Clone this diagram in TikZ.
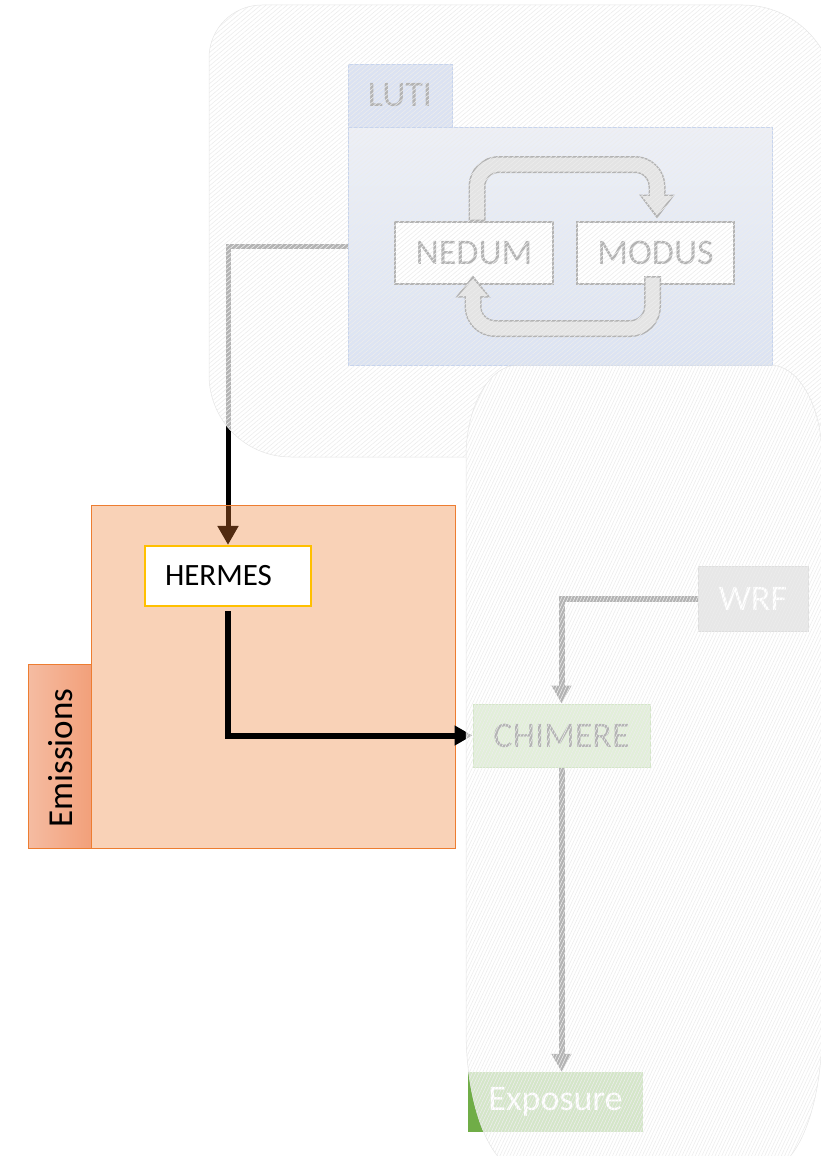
\documentclass[tikz,border=0pt]{standalone}
\usepackage{fontspec}
\setmainfont{Carlito}
\usetikzlibrary{arrows.meta,patterns.meta,calc}
\pgfdeclarelayer{bglayer}
\pgfdeclarelayer{emislayer}
\pgfdeclarelayer{ovllayer}
\pgfsetlayers{bglayer,emislayer,main,ovllayer}
\definecolor{orng}{HTML}{ED7D31}
\definecolor{gold}{HTML}{FFC000}
\definecolor{lutitab}{RGB}{136,160,212}
\definecolor{lutitop}{RGB}{196,205,228}
\definecolor{lutibot}{RGB}{136,162,214}
\definecolor{lutiedge}{HTML}{4472C4}
\definecolor{grn}{HTML}{70AD47}
\definecolor{lgrn}{RGB}{158,202,130}
\definecolor{wrffill}{RGB}{176,176,176}
\definecolor{wrfedge}{RGB}{145,145,145}
\definecolor{cyclefill}{RGB}{165,165,165}
\definecolor{emtabL}{RGB}{245,188,162}
\definecolor{emtabR}{RGB}{242,160,122}
\tikzset{
  every node/.style={inner sep=0pt, font=\fontsize{36}{40}\selectfont},
  lutitabst/.style={fill=lutitab, draw=lutiedge, line width=0.8pt},
  lutiboxst/.style={top color=lutitop, bottom color=lutibot, draw=lutiedge, line width=0.8pt},
  modelst/.style={fill=white, draw=black, line width=2pt},
  emisboxst/.style={fill=orng, fill opacity=0.35, draw=orng, draw opacity=1, line width=1pt},
  emistabst/.style={left color=emtabL, right color=emtabR, draw=orng, line width=1pt, text=black},
  hermesst/.style={fill=white, draw=gold, line width=2.2pt, font=\fontsize{31}{36}\selectfont,
     inner xsep=20pt, text width=126pt, align=left},
  wrfst/.style={fill=wrffill, draw=wrfedge, line width=1pt, text=white},
  chimst/.style={fill=lgrn, draw=grn, line width=1pt, text=black},
  expst/.style={fill=grn, text=white},
  connA/.style={line width=5pt, -{Triangle[length=19pt,width=20pt]}},
  connB/.style={line width=6pt, -{Triangle[length=18pt,width=19pt]}},
  cycout/.style={line width=17pt, draw=black, rounded corners=22pt},
  cycin/.style={line width=14pt, draw=cyclefill, rounded corners=22pt},
  ovlwhite/.style={fill=white, fill opacity=0.7},
  ovledge/.style={draw=black!10, line width=0.5pt},
}
\begin{document}
\begin{tikzpicture}[x=1pt, y=-1pt]
\useasboundingbox (0,0) rectangle (821,1156);

% ---------- LUTI group ----------
\node[lutitabst, minimum width=104pt, minimum height=63pt] (lutitab) at (400,95.5) {LUTI};
\node[lutiboxst, minimum width=424pt, minimum height=238pt] (lutibox) at (560,246) {};
\node[modelst, minimum width=158pt, minimum height=62pt] (nedum) at (474,253) {NEDUM};
\node[modelst, minimum width=157pt, minimum height=62pt] (modus) at (655.5,253) {MODUS};

% cycle arrow NEDUM -> MODUS
\coordinate (ta) at ($(nedum.north)+(3,0)$);
\coordinate (tb) at ($(modus.north)+(1.5,-25)$);
\coordinate (tt) at ($(modus.north)+(1.5,-5)$);
\draw[cycout] (ta) |- ($(tb)+(0,-31.5)$) -- (tb);
\fill[black] ($(tb)+(-18,-1.5)$) -- ($(tb)+(18,-1.5)$) -- ($(tt)+(0,2.5)$) -- cycle;
\draw[cycin] ($(ta)+(0,-1.5)$) |- ($(tb)+(0,-31.5)$) -- (tb);
\fill[cyclefill] ($(tb)+(-15,0)$) -- ($(tb)+(15,0)$) -- ($(tt)+(0,-1)$) -- cycle;

% cycle arrow MODUS -> NEDUM
\coordinate (ba) at ($(modus.south)+(-3,-9)$);
\coordinate (bb) at ($(nedum.south)+(-1,11)$);
\coordinate (bt) at ($(nedum.south)+(-1,-7)$);
\draw[cycout] (ba) |- ($(bb)+(0,32.5)$) -- (bb);
\fill[black] ($(bb)+(-17.5,1.5)$) -- ($(bb)+(17.5,1.5)$) -- ($(bt)+(0,-2.5)$) -- cycle;
\draw[cycin] ($(ba)+(0,1.5)$) |- ($(bb)+(0,32.5)$) -- (bb);
\fill[cyclefill] ($(bb)+(-14.5,0)$) -- ($(bb)+(14.5,0)$) -- ($(bt)+(0,1)$) -- cycle;

% ---------- Emissions group ----------
\node[hermesst, minimum height=60pt] (hermes) at (228,576) {HERMES};
\begin{pgfonlayer}{emislayer}
\node[emisboxst, minimum width=364pt, minimum height=343pt] (emisbox) at (273,676.5) {};
\node[emistabst, minimum width=63pt, minimum height=184pt] (emistab) at (59.5,756) {};
\node[rotate=90, text=black, font=\fontsize{35}{40}\selectfont] (emistxt) at (61,758) {Emissions};
\end{pgfonlayer}
\begin{pgfonlayer}{bglayer}
\draw[connA] (lutibox.west) -| (hermes.north);
\end{pgfonlayer}

% ---------- right group ----------
\node[wrfst, minimum width=110pt, minimum height=65pt] (wrf) at (753,598.5) {WRF};
\node[chimst, minimum width=177pt, minimum height=63pt] (chimere) at (561.5,735.5) {CHIMERE};
\node[expst, minimum width=175pt, minimum height=60pt] (exposure) at (555.5,1102) {Exposure};

\draw[connB, shorten <=4pt] (hermes.south) |- (chimere.west);
\draw[connB] (wrf.west) -| (chimere.north);
\draw[connB] (chimere.south) -- (chimere.south |- exposure.north);

% ---------- translucent hatched overlays ----------
\begin{pgfonlayer}{ovllayer}
\begin{scope}[even odd rule]
\clip (-20,-20) rectangle (900,1250)
  (466,457) .. controls (466,406.2) and (489.3,365) .. (518,365) -- (770,365)
  .. controls (798.7,365) and (822,406.2) .. (822,457) -- (822,1030)
  .. controls (822,1107.3) and (796.9,1170) .. (766,1170) -- (522,1170)
  .. controls (491.1,1170) and (466,1107.3) .. (466,1030) -- cycle;
\fill[ovlwhite, nonzero rule]
  (209,58) .. controls (209,28.7) and (232.7,5) .. (262,5) -- (743,5)
  .. controls (793.8,5) and (835,46.2) .. (835,97) -- (835,380)
  .. controls (835,422.5) and (800.5,457) .. (758,457) -- (291,457)
  .. controls (245.7,457) and (209,420.3) .. (209,375) -- cycle;
\fill[nonzero rule, pattern={Lines[angle=40,distance=3.4pt,line width=0.6pt]}, pattern color=black!7]
  (209,58) .. controls (209,28.7) and (232.7,5) .. (262,5) -- (743,5)
  .. controls (793.8,5) and (835,46.2) .. (835,97) -- (835,380)
  .. controls (835,422.5) and (800.5,457) .. (758,457) -- (291,457)
  .. controls (245.7,457) and (209,420.3) .. (209,375) -- cycle;
\draw[ovledge]
  (209,58) .. controls (209,28.7) and (232.7,5) .. (262,5) -- (743,5)
  .. controls (793.8,5) and (835,46.2) .. (835,97) -- (835,380)
  .. controls (835,422.5) and (800.5,457) .. (758,457) -- (291,457)
  .. controls (245.7,457) and (209,420.3) .. (209,375) -- cycle;
\end{scope}
\fill[ovlwhite]
  (466,457) .. controls (466,406.2) and (489.3,365) .. (518,365) -- (770,365)
  .. controls (798.7,365) and (822,406.2) .. (822,457) -- (822,1030)
  .. controls (822,1107.3) and (796.9,1170) .. (766,1170) -- (522,1170)
  .. controls (491.1,1170) and (466,1107.3) .. (466,1030) -- cycle;
\fill[pattern={Lines[angle=65,distance=3pt,line width=0.6pt]}, pattern color=black!7]
  (466,457) .. controls (466,406.2) and (489.3,365) .. (518,365) -- (770,365)
  .. controls (798.7,365) and (822,406.2) .. (822,457) -- (822,1030)
  .. controls (822,1107.3) and (796.9,1170) .. (766,1170) -- (522,1170)
  .. controls (491.1,1170) and (466,1107.3) .. (466,1030) -- cycle;
\draw[ovledge]
  (466,457) .. controls (466,406.2) and (489.3,365) .. (518,365) -- (770,365)
  .. controls (798.7,365) and (822,406.2) .. (822,457) -- (822,1030)
  .. controls (822,1107.3) and (796.9,1170) .. (766,1170) -- (522,1170)
  .. controls (491.1,1170) and (466,1107.3) .. (466,1030) -- cycle;
\end{pgfonlayer}
\end{tikzpicture}
\end{document}
